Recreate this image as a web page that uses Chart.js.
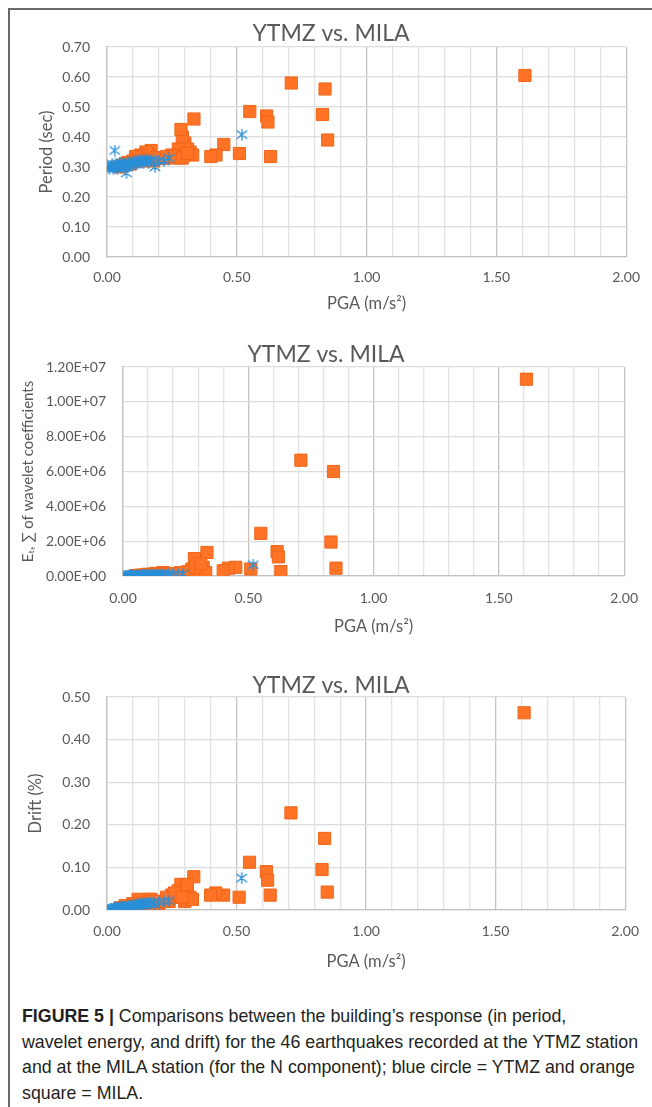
<!DOCTYPE html>
<html><head><meta charset="utf-8">
<script src="https://cdn.jsdelivr.net/npm/chart.js@4.4.0/dist/chart.umd.min.js"></script>
<style>
body{margin:0;background:#fff;width:652px;height:1107px;overflow:hidden;position:relative}
.frame{position:absolute;left:8px;top:8px;width:700px;height:1200px;border-left:2px solid #6a6a6a;border-top:2px solid #6a6a6a}
canvas.c{position:absolute;left:0}
#cap{position:absolute;left:22px;top:1004px;width:628px;font-family:"Liberation Sans Narrow","Arial Narrow",sans-serif;font-size:17.8px;line-height:25.5px;color:#231f20;white-space:nowrap}
#cap b{font-weight:bold}
</style></head><body>
<div class="frame"></div>
<canvas id="c1" class="c" style="top:0" width="652" height="330"></canvas>
<canvas id="c2" class="c" style="top:330px" width="652" height="330"></canvas>
<canvas id="c3" class="c" style="top:660px" width="652" height="330"></canvas>
<div id="cap"><b>FIGURE 5 |</b> Comparisons between the building’s response (in period,<br>wavelet energy, and drift) for the 46 earthquakes recorded at the YTMZ station<br>and at the MILA station (for the N component); blue circle = YTMZ and orange<br>square = MILA.</div>
<script>
// ---- data ----
const chartTitle = 'YTMZ vs. MILA';
const xTitle = 'PGA (m/s\u00B2)';
const yTitles = ['Period (sec)', 'E\u209C, \u2211 of wavelet coefficients', 'Drift (%)'];

const milaPGA = [1.61,0.85,0.84,0.83,0.71,0.63,0.615,0.62,0.55,0.51,0.45,0.42,0.40,0.335,0.32,0.31,0.30,0.29,0.285,0.28,0.275,0.30,0.33,0.25,0.24,0.22,0.20,0.17,0.16,0.15,0.13,0.12,0.11,0.10,0.09,0.08,0.07,0.06,0.14,0.18,0.19,0.23,0.26,0.29,0.31,0.05];
const milaPeriod = [0.605,0.39,0.56,0.475,0.58,0.335,0.47,0.45,0.485,0.345,0.375,0.34,0.335,0.46,0.35,0.36,0.38,0.40,0.425,0.33,0.36,0.34,0.34,0.34,0.33,0.33,0.33,0.355,0.34,0.35,0.34,0.33,0.335,0.32,0.31,0.315,0.31,0.305,0.32,0.32,0.33,0.335,0.335,0.33,0.345,0.30];
const milaEnergy = [11300000,450000,6000000,1950000,6650000,250000,1400000,1100000,2450000,400000,500000,450000,300000,1350000,500000,300000,600000,900000,1000000,200000,400000,150000,200000,200000,150000,100000,100000,150000,200000,120000,150000,100000,80000,100000,50000,50000,40000,30000,100000,80000,120000,200000,250000,500000,700000,20000];
const milaDrift = [0.463,0.042,0.168,0.095,0.228,0.035,0.09,0.07,0.112,0.03,0.035,0.04,0.035,0.078,0.03,0.04,0.05,0.055,0.06,0.03,0.045,0.02,0.025,0.035,0.02,0.02,0.015,0.025,0.025,0.02,0.02,0.025,0.015,0.015,0.01,0.01,0.01,0.005,0.015,0.01,0.02,0.03,0.04,0.03,0.06,0.005];

const ytmzPGA = [0.005,0.01,0.015,0.02,0.02,0.025,0.03,0.03,0.035,0.04,0.04,0.045,0.05,0.05,0.055,0.06,0.06,0.065,0.07,0.075,0.08,0.08,0.085,0.09,0.095,0.10,0.105,0.11,0.115,0.12,0.125,0.13,0.135,0.14,0.145,0.15,0.155,0.16,0.17,0.18,0.185,0.20,0.22,0.24,0.52,0.03];
const ytmzPeriod = [0.30,0.295,0.305,0.30,0.31,0.295,0.30,0.305,0.30,0.31,0.295,0.305,0.30,0.315,0.305,0.30,0.31,0.305,0.31,0.28,0.30,0.315,0.31,0.305,0.315,0.31,0.32,0.315,0.31,0.32,0.315,0.325,0.32,0.315,0.32,0.325,0.32,0.315,0.32,0.325,0.30,0.32,0.32,0.33,0.408,0.355];
const ytmzEnergy = [5000,8000,10000,6000,12000,9000,15000,11000,14000,20000,10000,18000,16000,25000,20000,22000,30000,26000,28000,15000,30000,40000,35000,32000,45000,40000,50000,48000,42000,60000,55000,65000,58000,70000,62000,75000,70000,80000,85000,90000,60000,95000,100000,120000,650000,40000];
const ytmzDrift = [0.001,0.001,0.002,0.001,0.003,0.002,0.003,0.002,0.004,0.004,0.003,0.005,0.004,0.006,0.005,0.006,0.007,0.006,0.008,0.005,0.008,0.009,0.009,0.008,0.010,0.010,0.011,0.012,0.011,0.013,0.012,0.014,0.013,0.015,0.014,0.016,0.015,0.017,0.016,0.018,0.012,0.018,0.02,0.022,0.075,0.006];

const xMin = 0, xMax = 2, xStep = 0.1, xLabelEvery = 0.5;
const yRanges = [[0,0.7,0.1],[0,12000000,2000000],[0,0.5,0.1]];

// ---- styling ----
const TXT = '#595959';
const FONT = 'Lato, "Open Sans", sans-serif';
const BLUE = '#2a8fd8';
const ORANGE = '#ff7326', ORANGE_EDGE = '#ee661a';

function makeStar(color, size){
  const c = document.createElement('canvas');
  c.width = size; c.height = size;
  const g = c.getContext('2d');
  g.strokeStyle = color; g.lineWidth = 1.3; g.lineCap = 'round';
  const s = size, m = s/2;
  g.beginPath();
  g.moveTo(m, 0.7); g.lineTo(m, s-0.7);
  g.moveTo(1.2, 2.2); g.lineTo(s-1.2, s-2.2);
  g.moveTo(s-1.2, 2.2); g.lineTo(1.2, s-2.2);
  g.stroke();
  return c;
}
const star = makeStar(BLUE, 12);

function toPts(xs, ys){ return xs.map((x,i)=>({x:x, y:ys[i]})); }
function sci(v){
  if (v === 0) return '0.00E+00';
  const e = Math.floor(Math.log10(Math.abs(v)));
  const m = v/Math.pow(10,e);
  return m.toFixed(2)+'E'+(e<0?'-':'+')+String(Math.abs(e)).padStart(2,'0');
}
function isMajor(v){ const r = v/xLabelEvery; return Math.abs(r-Math.round(r))<1e-6; }

function build(id, idx, yVals, mVals, L){
  const [ymin,ymax,ystep] = yRanges[idx];
  new Chart(document.getElementById(id), {
    type: 'scatter',
    data: { datasets: [
      { data: toPts(ytmzPGA, yVals), pointStyle: star, pointRadius: 5, backgroundColor: BLUE, borderColor: BLUE },
      { data: toPts(milaPGA, mVals), pointStyle: 'rect', pointRadius: 8.6, backgroundColor: ORANGE, borderColor: ORANGE_EDGE, borderWidth: 1 }
    ]},
    options: {
      responsive: false, animation: false, events: [],
      layout: { padding: { left: L.padL, right: L.padR, top: 0, bottom: 0 } },
      plugins: {
        legend: { display: false }, tooltip: { enabled: false },
        title: { display: true, text: chartTitle, color: TXT,
          font: { family: FONT, size: 23, weight: 'normal', lineHeight: 1 },
          padding: { top: L.tTop, bottom: L.tBot } }
      },
      scales: {
        x: { type: 'linear', min: xMin, max: xMax,
          border: { display: true, color: '#c2c2c2', width: 1.3 },
          grid: { drawTicks: false, lineWidth: 1.3,
            color: c => isMajor(c.tick.value) ? '#c4c4c4' : '#e3e3e3' },
          ticks: { stepSize: xStep, autoSkip: false, maxRotation: 0, padding: L.xTickPad, color: TXT,
            font: { family: FONT, size: 14 },
            callback: v => isMajor(v) ? v.toFixed(2) : '' },
          title: { display: true, text: xTitle, color: TXT, font: { family: FONT, size: 16.5, lineHeight: 1 },
            padding: { top: 0, bottom: L.xTitlePad } },
          afterFit: s => { s.height = L.xH; }
        },
        y: { type: 'linear', min: ymin, max: ymax,
          border: { display: true, color: '#c2c2c2', width: 1.3 },
          grid: { drawTicks: false, lineWidth: 1.3, color: '#dcdcdc' },
          ticks: { stepSize: ystep, padding: 17, color: TXT, font: { family: FONT, size: 14 },
            callback: v => idx === 1 ? sci(v) : v.toFixed(2) },
          title: { display: true, text: yTitles[idx], color: TXT, font: { family: FONT, size: L.ySize, lineHeight: 1 },
            padding: { top: L.yTitlePad, bottom: 0 } },
          afterFit: s => { s.width = L.yW; }
        }
      }
    }
  });
}

build('c1', 0, ytmzPeriod, milaPeriod, { padL: 27, padR: 17, yW: 80, xH: 73, tTop: 22.5, tBot: 1.5, xTickPad: 12, xTitlePad: 18, yTitlePad: 11, ySize: 16.5 });
build('c2', 1, ytmzEnergy, milaEnergy, { padL: 22, padR: 22, yW: 101, xH: 84, tTop: 13.5, tBot: 0.5, xTickPad: 14, xTitlePad: 25, yTitlePad: -1.5, ySize: 15 });
build('c3', 2, ytmzDrift, milaDrift, { padL: 32, padR: 22, yW: 75, xH: 80, tTop: 14, tBot: 0, xTickPad: 13, xTitlePad: 20, yTitlePad: -5, ySize: 16.5 });
</script>
</body></html>
